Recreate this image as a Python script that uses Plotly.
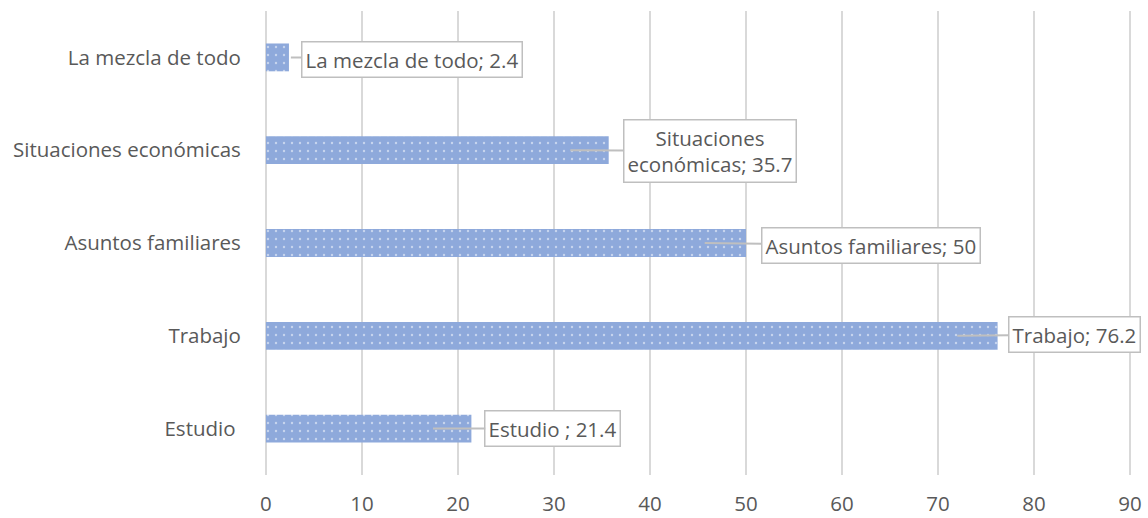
import plotly.graph_objects as go

categories = ["Estudio ", "Trabajo", "Asuntos familiares", "Situaciones económicas", "La mezcla de todo"]
values = [21.4, 76.2, 50, 35.7, 2.4]
label_texts = ["Estudio ; 21.4", "Trabajo; 76.2", "Asuntos familiares; 50",
               "Situaciones<br>económicas; 35.7", "La mezcla de todo; 2.4"]
pointer_x = [17.4, 72.0, 45.7, 31.7, 2.6]
x_ticks = [0, 10, 20, 30, 40, 50, 60, 70, 80, 90]

FONT = "Open Sans"
GRAY = "#595959"
FS = 20.5

fig = go.Figure()
fig.add_trace(go.Bar(
    x=values, y=categories, orientation="h",
    marker=dict(color="#8EA9DB", line=dict(width=0),
                pattern=dict(shape=".", fgcolor="white", bgcolor="#8EA9DB",
                             size=8, solidity=0.07)),
    hoverinfo="skip",
))

offsets = [(120, 0), (117, -1), (166, 2), (140, 1), (121, 2)]
for cat, txt, px, (ax, ay) in zip(categories, label_texts, pointer_x, offsets):
    fig.add_annotation(
        x=px, y=cat, xref="x", yref="y", text=txt,
        showarrow=True, arrowhead=0, arrowwidth=2, arrowcolor="#bfbfbf",
        ax=ax, ay=ay, standoff=0,
        font=dict(family=FONT, size=FS, color=GRAY),
        bgcolor="white", bordercolor="#bfbfbf", borderwidth=1.5, borderpad=3,
        align="center",
    )

fig.update_layout(
    width=1148, height=518,
    margin=dict(l=264, r=16, t=11, b=43),
    paper_bgcolor="white", plot_bgcolor="white",
    bargap=0.70, showlegend=False,
    font=dict(family=FONT, size=FS, color=GRAY),
)
fig.update_xaxes(
    range=[-0.2, 90.2], tickvals=x_ticks, showgrid=True, gridcolor="#d9d9d9", gridwidth=1.5,
    zeroline=False, showline=False, ticks="outside", ticklen=10, tickcolor="rgba(0,0,0,0)",
    tickfont=dict(family=FONT, size=FS, color=GRAY), automargin=False,
)
fig.update_yaxes(
    categoryorder="array", categoryarray=categories, showgrid=False, zeroline=False,
    showline=False, ticks="outside", ticklen=18, tickcolor="rgba(0,0,0,0)",
    tickfont=dict(family=FONT, size=FS, color=GRAY), automargin=False,
)

fig.write_html("out.html", config={"displayModeBar": False},
               post_script="document.body.style.margin='0';document.body.style.padding='0';")
